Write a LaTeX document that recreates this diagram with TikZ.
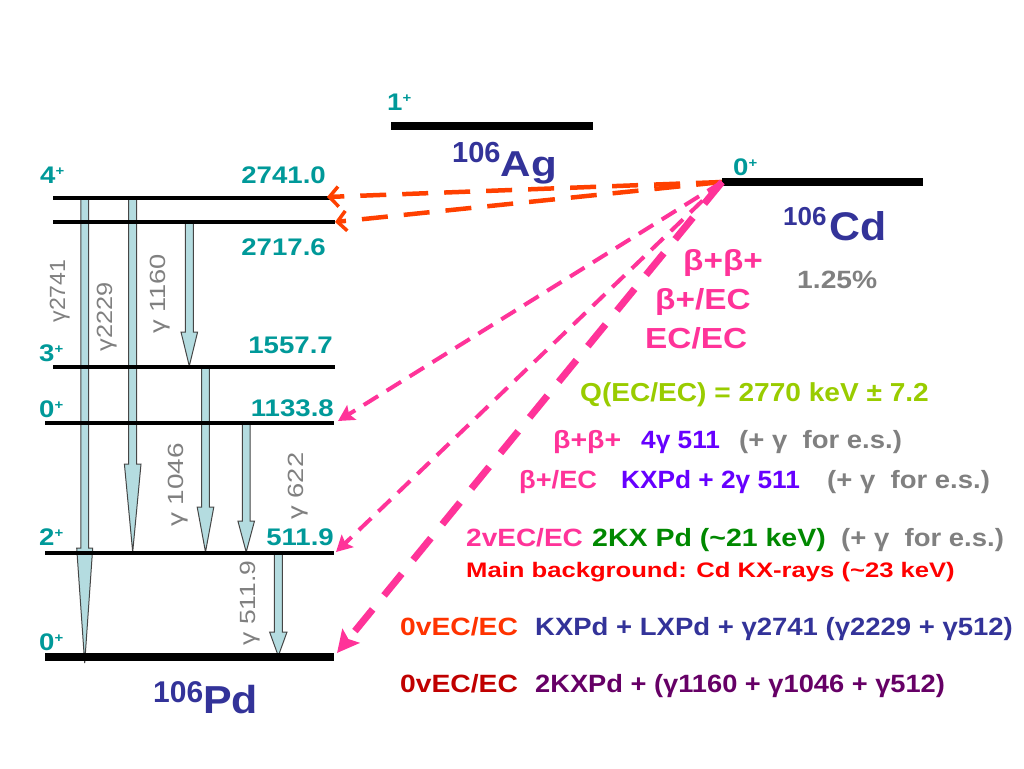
\documentclass[tikz,border=0pt]{standalone}
\usepackage{fontspec}
\setmainfont{Liberation Sans}
\usetikzlibrary{arrows.meta}
\definecolor{lvlteal}{RGB}{0,153,153}
\definecolor{navyc}{RGB}{51,51,153}
\definecolor{pinkc}{RGB}{255,51,153}
\definecolor{orangec}{RGB}{255,64,0}
\definecolor{orangetxt}{RGB}{255,51,0}
\definecolor{qgreen}{RGB}{153,204,0}
\definecolor{violetc}{RGB}{102,0,255}
\definecolor{greyc}{RGB}{128,128,128}
\definecolor{greenc}{RGB}{0,136,0}
\definecolor{redc}{RGB}{255,0,0}
\definecolor{darkredc}{RGB}{192,0,0}
\definecolor{purplec}{RGB}{102,0,102}
\definecolor{gfill}{RGB}{180,220,224}
\definecolor{gline}{RGB}{70,70,70}
\newcommand\sx[2]{\scalebox{#1}[1]{#2}}
\newcommand\fs[1]{\fontsize{#1}{#1}\selectfont}
\newcommand\jp[1]{#1\raisebox{7.5pt}{\fs{13}+}}
\newcommand\garrow[6]{% x, ytop, yhead, ytip, half shaft, half head
  \draw[gam] ({#1-#5},#2) -- ({#1-#5},#3) -- ({#1-#6},#3) -- (#1,#4) -- ({#1+#6},#3) -- ({#1+#5},#3) -- ({#1+#5},#2) -- cycle;}
\begin{document}
\begin{tikzpicture}[x=1pt,y=-1pt,
  lvl/.style={line width=3.5pt},
  lvlthick/.style={line width=8pt},
  gam/.style={fill=gfill, draw=gline, line width=1pt, line join=miter},
  txt/.style={inner sep=0pt, font=\bfseries\fs{25}, anchor=base west},
  lbl/.style={inner sep=0pt, font=\bfseries\fs{24}, text=lvlteal},
  glab/.style={inner sep=0pt, font=\fs{22}, text=greyc, rotate=90, anchor=base},
  orarrow/.style={draw=orangec, line width=4.5pt, dash pattern=on 26pt off 16pt,
    -{Straight Barb[length=9pt,width=20pt,line width=3.5pt]}},
  pinkthin/.style={draw=pinkc, line width=4pt, dash pattern=on 17pt off 10pt,
    -{Stealth[length=16pt,width=17pt,inset=3pt]}},
  pinkthick/.style={draw=pinkc, line width=7pt, dash pattern=on 28pt off 18pt,
    -{Stealth[length=22pt,width=22pt,inset=4pt]}}]
\useasboundingbox (0,0) rectangle (1024,768);

% gamma transitions
\garrow{84.7}{198}{548}{663}{3.8}{8}
\garrow{132.7}{198}{464}{552}{4}{8.3}
\garrow{189.3}{222}{332}{366}{4}{8.3}
\garrow{205.5}{367}{507}{552}{3.8}{8.3}
\garrow{246.2}{423}{521}{552}{3.8}{8.3}
\garrow{278.3}{553}{632}{656}{4}{8.7}

% levels of 106Pd
\draw[lvl] (53,198) -- (330,198);
\draw[lvl] (53,222) -- (335,222);
\draw[lvl] (53,367) -- (335,367);
\draw[lvl] (45,423) -- (334,423);
\draw[lvl] (45,553) -- (334,553);
\draw[lvlthick] (45,657) -- (334,657);
% 106Ag and 106Cd
\draw[lvlthick] (391,126) -- (593,126);
\draw[lvlthick] (722,182) -- (923,182);

% connector end points
\coordinate (cd) at (722,182);
\coordinate (t2741) at (327,197);
\coordinate (t2717) at (335,222);
\coordinate (t1133) at (338,421);
\coordinate (t511) at (336,552);
\coordinate (t0) at (337,653);

\draw[orarrow] (cd) -- (t2741);
\draw[orarrow] (cd) -- (t2717);
\draw[pinkthin] (cd) -- (t1133);
\draw[pinkthin] (cd) -- (t511);
\draw[pinkthick] (cd) -- (t0);

% level labels
\node[lbl, anchor=base west] (j4) at (40,183) {\sx{1.15}{\jp{4}}};
\node[lbl, anchor=base east] (e2741) at (326,183) {\sx{1.15}{2741.0}};
\node[lbl, anchor=base east] (e2717) at (326,255) {\sx{1.15}{2717.6}};
\node[lbl, anchor=base west] (j3) at (39,361) {\sx{1.15}{\jp{3}}};
\node[lbl, anchor=base east] (e1557) at (333,353) {\sx{1.15}{1557.7}};
\node[lbl, anchor=base west] (j0a) at (39,417) {\sx{1.15}{\jp{0}}};
\node[lbl, anchor=base east] (e1133) at (334,416) {\sx{1.15}{1133.8}};
\node[lbl, anchor=base west] (j2) at (39,545) {\sx{1.15}{\jp{2}}};
\node[lbl, anchor=base east] (e511) at (334,545) {\sx{1.15}{511.9}};
\node[lbl, anchor=base west] (j0g) at (39,650) {\sx{1.15}{\jp{0}}};
\node[lbl, anchor=base west] (jag) at (387,110) {\sx{1.15}{\jp{1}}};
\node[lbl, anchor=base west] (jcd) at (733,175) {\sx{1.15}{\jp{0}}};

% gamma labels
\node[glab] (g2741) at (65,291) {\sx{1.05}{γ2741}};
\node[glab] (g2229) at (112,317) {\sx{1.15}{γ2229}};
\node[glab] (g1160) at (165,294) {\sx{1.24}{γ 1160}};
\node[glab] (g1046) at (183,485) {\sx{1.27}{γ 1046}};
\node[glab] (g622) at (303,486) {\sx{1.24}{γ 622}};
\node[glab] (g511) at (255,603) {\sx{1.2}{γ 511.9}};

% nuclide names
\node[txt, text=navyc] (pd) at (153,713) {\raisebox{11pt}{\fs{30}106}\sx{1.1}{\fs{39}Pd}};
\node[txt, text=navyc] (ag) at (452,176) {\raisebox{14pt}{\fs{29}106}\sx{1.17}{\fs{36}Ag}};
\node[txt, text=navyc] (cdn) at (783,240) {\raisebox{15pt}{\fs{26}106}\hspace{3pt}\sx{1.07}{\fs{40}Cd}};
\node[txt, text=greyc] (abund) at (797,288) {\sx{1.13}{1.25\%}};

% decay modes
\node[txt, text=pinkc, font=\bfseries\fs{29}] (bb) at (683,270) {\sx{1.15}{β+β+}};
\node[txt, text=pinkc, font=\bfseries\fs{29}] (bec) at (655,309) {\sx{1.15}{β+/EC}};
\node[txt, text=pinkc, font=\bfseries\fs{29}] (ecec) at (645,348) {\sx{1.15}{EC/EC}};

\node[txt, text=qgreen, font=\bfseries\fs{26}] (q) at (580,401) {\sx{1.08}{Q(EC/EC) = 2770 keV ± 7.2}};

\node[txt, text=pinkc] (m1a) at (553,448) {\sx{1.14}{β+β+}};
\node[txt, text=violetc] (m1b) at (641,448) {\sx{1.05}{4γ 511}};
\node[txt, text=greyc] (m1c) at (739,448) {\sx{1.10}{(+ γ\ \ for e.s.)}};

\node[txt, text=pinkc] (m2a) at (519,488) {\sx{1.09}{β+/EC}};
\node[txt, text=violetc] (m2b) at (621,488) {\sx{1.05}{KXPd + 2γ 511}};
\node[txt, text=greyc] (m2c) at (827,488) {\sx{1.10}{(+ γ\ \ for e.s.)}};

\node[txt, text=pinkc] (m3a) at (466,546) {\sx{1.12}{2vEC/EC}};
\node[txt, text=greenc] (m3b) at (592,546) {\sx{1.14}{2KX Pd (\textasciitilde 21 keV)}};
\node[txt, text=greyc] (m3c) at (841,546) {\sx{1.10}{(+ γ\ \ for e.s.)}};

\node[txt, text=redc, font=\bfseries\fs{21}] (bg) at (466,577) {\sx{1.22}{Main background: Cd KX-rays (\textasciitilde 23 keV)}};

\node[txt, text=orangetxt] (m4a) at (400,635) {\sx{1.13}{0vEC/EC}};
\node[txt, text=navyc] (m4b) at (535,635) {\sx{1.10}{KXPd + LXPd + γ2741 (γ2229 + γ512)}};

\node[txt, text=darkredc] (m5a) at (400,692) {\sx{1.13}{0vEC/EC}};
\node[txt, text=purplec] (m5b) at (535,692) {\sx{1.09}{2KXPd + (γ1160 + γ1046 + γ512)}};
\end{tikzpicture}
\end{document}
